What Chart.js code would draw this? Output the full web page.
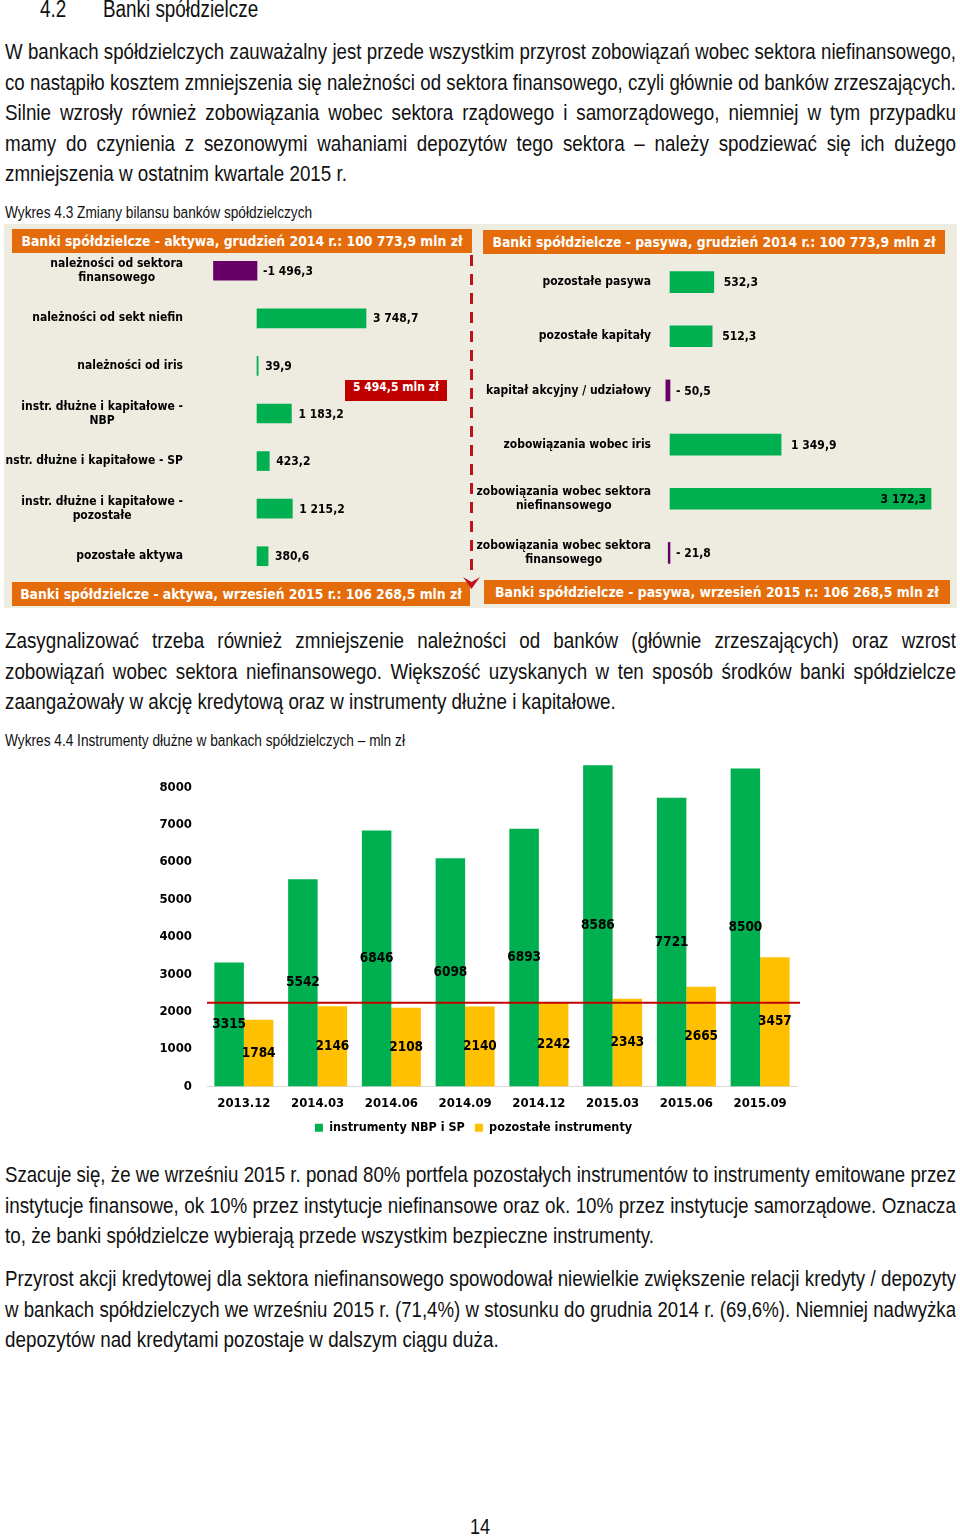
<!DOCTYPE html>
<html lang="pl">
<head>
<meta charset="utf-8">
<script src="https://cdn.jsdelivr.net/npm/chart.js"></script>
<style>
  body { margin: 0; background: #fff; width: 960px; height: 1537px; position: relative; overflow: hidden; }
  .abs { position: absolute; }
  .nar { font-family: "Liberation Sans", Arial, sans-serif; color: #111; transform-origin: 0 0; transform: scaleX(0.82); white-space: nowrap; }
  .par { position: absolute; left: 5px; width: 951px; font-family: "Liberation Sans", Arial, sans-serif; font-size: 22px; color: #111; }
  .par div { height: 30.5px; line-height: 30.5px; white-space: nowrap; transform-origin: 0 0; }
  .par div.j { text-align: justify; text-align-last: justify; overflow: hidden; }
  .hdr { position: absolute; background: #E46C0A; color: #fff; font: bold 13.8px "DejaVu Sans Condensed", sans-serif; text-align: center; height: 24px; line-height: 24px; white-space: nowrap; }
</style>
</head>
<body>

<div class="abs nar" style="left:40px; top:-5px; font-size:23px; line-height:28px;">4.2</div>
<div class="abs nar" style="left:103px; top:-5px; font-size:23px; line-height:28px;">Banki spółdzielcze</div>

<div class="par" style="top:37px;">
  <div class="j">W bankach spółdzielczych zauważalny jest przede wszystkim przyrost zobowiązań wobec sektora niefinansowego,</div>
  <div class="j">co nastąpiło kosztem zmniejszenia się należności od sektora finansowego, czyli głównie od banków zrzeszających.</div>
  <div class="j">Silnie wzrosły również zobowiązania wobec sektora rządowego i samorządowego, niemniej w tym przypadku</div>
  <div class="j">mamy do czynienia z sezonowymi wahaniami depozytów tego sektora – należy spodziewać się ich dużego</div>
  <div>zmniejszenia w ostatnim kwartale 2015 r.</div>
</div>

<div class="abs nar" style="left:5px; top:203px; font-size:16.7px; line-height:20px;">Wykres 4.3 Zmiany bilansu banków spółdzielczych</div>

<!-- Wykres 4.3 -->
<div class="abs" style="left:4px; top:224px; width:953px; height:384px; background:#EEECE1;"></div>
<div class="hdr" style="left:12px; top:229px; width:460px;">Banki spółdzielcze - aktywa, grudzień 2014 r.: 100 773,9 mln zł</div>
<div class="hdr" style="left:483px; top:230px; width:462px;">Banki spółdzielcze - pasywa, grudzień 2014 r.: 100 773,9 mln zł</div>
<div class="hdr" style="left:12px; top:582px; width:458px;">Banki spółdzielcze - aktywa, wrzesień 2015 r.: 106 268,5 mln zł</div>
<div class="hdr" style="left:484px; top:580px; width:466px;">Banki spółdzielcze - pasywa, wrzesień 2015 r.: 106 268,5 mln zł</div>

<div class="abs" style="left:5px; top:247px; width:465px; height:333px;"><canvas id="aktywa"></canvas></div>
<div class="abs" style="left:475px; top:255px; width:480px; height:325px;"><canvas id="pasywa"></canvas></div>

<svg class="abs" style="left:455px; top:250px;" width="32" height="345">
  <line x1="16.5" y1="5" x2="16.5" y2="325" stroke="#C0111F" stroke-width="3" stroke-dasharray="11 8"/>
  <polygon points="8,327 16.5,339 25,327 16.5,332" fill="#C0111F"/>
</svg>
<div class="abs" id="sumBox" style="left:345px; top:380px; width:102px; height:21px; line-height:21px; background:#C00000; color:#fff; font:bold 12px 'DejaVu Sans Condensed', sans-serif; text-align:center;"></div>

<div class="par" style="top:626px;">
  <div class="j">Zasygnalizować trzeba również zmniejszenie należności od banków (głównie zrzeszających) oraz wzrost</div>
  <div class="j">zobowiązań wobec sektora niefinansowego. Większość uzyskanych w ten sposób środków banki spółdzielcze</div>
  <div>zaangażowały w akcję kredytową oraz w instrumenty dłużne i kapitałowe.</div>
</div>

<div class="abs nar" style="left:5px; top:731px; font-size:16.7px; line-height:20px;">Wykres 4.4 Instrumenty dłużne w bankach spółdzielczych – mln zł</div>

<div class="abs" style="left:150px; top:727px; width:660px; height:417px;"><canvas id="instr"></canvas></div>

<div class="par" style="top:1160px;">
  <div class="j">Szacuje się, że we wrześniu 2015 r. ponad 80% portfela pozostałych instrumentów to instrumenty emitowane przez</div>
  <div class="j">instytucje finansowe, ok 10% przez instytucje niefinansowe oraz ok. 10% przez instytucje samorządowe. Oznacza</div>
  <div>to, że banki spółdzielcze wybierają przede wszystkim bezpieczne instrumenty.</div>
</div>

<div class="par" style="top:1264px;">
  <div class="j">Przyrost akcji kredytowej dla sektora niefinansowego spowodował niewielkie zwiększenie relacji kredyty / depozyty</div>
  <div class="j">w bankach spółdzielczych we wrześniu 2015 r. (71,4%) w stosunku do grudnia 2014 r. (69,6%). Niemniej nadwyżka</div>
  <div>depozytów nad kredytami pozostaje w dalszym ciągu duża.</div>
</div>

<div class="abs nar" style="left:470px; top:1514px; font-size:22px; line-height:26px;">14</div>

<script>
// Wykres 4.3 - zmiany aktywow i pasywow (mln zl)
const aktywaLabels = [
  ['należności od sektora', 'finansowego'],
  'należności od sekt niefin',
  'należności od iris',
  ['instr. dłużne i kapitałowe -', 'NBP'],
  'instr. dłużne i kapitałowe - SP',
  ['instr. dłużne i kapitałowe -', 'pozostałe'],
  'pozostałe aktywa'
];
const aktywaValues = [-1496.3, 3748.7, 39.9, 1183.2, 423.2, 1215.2, 380.6];

const pasywaLabels = [
  'pozostałe pasywa',
  'pozostałe kapitały',
  'kapitał akcyjny / udziałowy',
  'zobowiązania wobec iris',
  ['zobowiązania wobec sektora', 'niefinansowego'],
  ['zobowiązania wobec sektora', 'finansowego']
];
const pasywaValues = [532.3, 512.3, -50.5, 1349.9, 3172.3, -21.8];

// Wykres 4.4 - instrumenty dluzne (mln zl)
const okresy = ['2013.12', '2014.03', '2014.06', '2014.09', '2014.12', '2015.03', '2015.06', '2015.09'];
const nbpSp = [3315, 5542, 6846, 6098, 6893, 8586, 7721, 8500];
const pozostaleInstr = [1784, 2146, 2108, 2140, 2242, 2343, 2665, 3457];
const liniaRef = 2240;

const GREEN = '#00B050';
const PURPLE = '#660066';
const YELLOW = '#FFC000';
const LBL_FONT = 'bold 12px "DejaVu Sans Condensed", sans-serif';

// tekst "waski": Liberation Sans sciesniony w poziomie, linie justowane
const BASE_SX = 0.8552;
const COL_W = 951;
document.querySelectorAll('.par div').forEach(d => {
  const span = document.createElement('span');
  while (d.firstChild) span.appendChild(d.firstChild);
  d.appendChild(span);
  const w = span.getBoundingClientRect().width;
  const W = Math.max(COL_W / BASE_SX, w + 2);
  d.style.width = W + 'px';
  d.style.transform = 'scaleX(' + (COL_W / W) + ')';
});

function fmtPl(v) {
  const a = Math.abs(v).toFixed(1).split('.');
  return a[0].replace(/\B(?=(\d{3})+(?!\d))/g, ' ') + ',' + a[1];
}

const total = aktywaValues.reduce((s, v) => s + v, 0);
document.getElementById('sumBox').textContent = fmtPl(total) + ' mln zł';

// etykiety kategorii i wartosci przy slupkach poziomych
const barTexts = {
  id: 'barTexts',
  afterDraw(chart, args, opts) {
    const ctx = chart.ctx;
    const yScale = chart.scales.y;
    const meta = chart.getDatasetMeta(0);
    ctx.save();
    ctx.font = LBL_FONT;
    ctx.fillStyle = '#000';
    ctx.textBaseline = 'middle';
    chart.data.labels.forEach((lab, i) => {
      const lines = Array.isArray(lab) ? lab : [lab];
      const w = Math.max(...lines.map(l => ctx.measureText(l).width));
      const cx = opts.right - w / 2;
      const y0 = yScale.getPixelForValue(i) - (lines.length - 1) * 7;
      ctx.textAlign = 'center';
      lines.forEach((l, k) => ctx.fillText(l, cx, y0 + k * 14));
    });
    const vals = chart.data.datasets[0].data;
    meta.data.forEach((bar, i) => {
      const v = vals[i];
      const txt = v < 0 ? '-' + opts.negSep + fmtPl(v) : fmtPl(v);
      const tw = ctx.measureText(txt).width;
      let x, align = 'left';
      if (v < 0) {
        x = bar.base + 6;
      } else {
        x = bar.x + opts.gap;
        if (x + tw > chart.chartArea.right) { x = bar.x - 5; align = 'right'; }
      }
      ctx.textAlign = align;
      ctx.fillText(txt, x, bar.y + 1);
    });
    ctx.restore();
  }
};

function hbar(id, labels, values, xmin, xmax, padLeft, thick, labelRight, gap, negSep) {
  return new Chart(document.getElementById(id), {
    type: 'bar',
    data: {
      labels: labels,
      datasets: [{
        data: values,
        backgroundColor: values.map(v => v < 0 ? PURPLE : GREEN),
        barThickness: thick
      }]
    },
    options: {
      indexAxis: 'y',
      responsive: true,
      maintainAspectRatio: false,
      animation: false,
      layout: { padding: { left: padLeft, right: 10, top: 0, bottom: 0 } },
      scales: {
        x: { display: false, min: xmin, max: xmax },
        y: { display: false }
      },
      plugins: {
        legend: { display: false },
        tooltip: { enabled: false },
        barTexts: { right: labelRight, gap: gap, negSep: negSep }
      }
    },
    plugins: [barTexts]
  });
}

hbar('aktywa', aktywaLabels, aktywaValues, -1960, 6981, 195, 19, 178, 7, '');
hbar('pasywa', pasywaLabels, pasywaValues, -121.5, 3342, 185, 21, 176, 10, ' ');

// wartosci w srodku slupkow + linia referencyjna
const colTexts = {
  id: 'colTexts',
  afterDatasetsDraw(chart) {
    const ctx = chart.ctx;
    const ys = chart.scales.y;
    const ca = chart.chartArea;
    ctx.save();
    const yy = ys.getPixelForValue(liniaRef);
    ctx.strokeStyle = '#C00000';
    ctx.lineWidth = 2;
    ctx.beginPath();
    ctx.moveTo(ca.left, yy);
    ctx.lineTo(ca.right + 3, yy);
    ctx.stroke();
    ctx.font = 'bold 13.5px "DejaVu Sans Condensed", sans-serif';
    ctx.fillStyle = '#000';
    ctx.textAlign = 'center';
    ctx.textBaseline = 'middle';
    chart.data.datasets.forEach((ds, d) => {
      chart.getDatasetMeta(d).data.forEach((bar, i) => {
        ctx.fillText(String(ds.data[i]), bar.x, (bar.y + bar.base) / 2);
      });
    });
    ctx.restore();
  }
};

new Chart(document.getElementById('instr'), {
  type: 'bar',
  data: {
    labels: okresy,
    datasets: [
      { label: 'instrumenty NBP i SP', data: nbpSp, backgroundColor: GREEN },
      { label: 'pozostałe instrumenty', data: pozostaleInstr, backgroundColor: YELLOW }
    ]
  },
  options: {
    responsive: true,
    maintainAspectRatio: false,
    animation: false,
    datasets: { bar: { barPercentage: 1, categoryPercentage: 0.8 } },
    layout: { padding: { top: 3, right: 13, left: 0, bottom: 0 } },
    scales: {
      x: {
        grid: { display: false, drawTicks: false },
        border: { color: '#D9D9D9', width: 1 },
        afterFit(s) { s.height = 25; },
        ticks: { color: '#000', padding: 9, font: { family: 'DejaVu Sans Condensed', weight: 'bold', size: 13 } }
      },
      y: {
        min: 0, max: 9000,
        grid: { display: false, drawTicks: false },
        border: { display: false },
        afterFit(s) { s.width = 57; },
        ticks: {
          stepSize: 1000, padding: 15, color: '#000',
          font: { family: 'DejaVu Sans Condensed', weight: 'bold', size: 13 },
          callback: v => v <= 8000 ? v : ''
        }
      }
    },
    plugins: {
      legend: {
        position: 'bottom',
        labels: {
          boxWidth: 8, boxHeight: 8, padding: 10, color: '#000',
          font: { family: 'DejaVu Sans Condensed', weight: 'bold', size: 12.5 }
        }
      },
      tooltip: { enabled: false }
    }
  },
  plugins: [colTexts]
});
</script>
</body>
</html>
